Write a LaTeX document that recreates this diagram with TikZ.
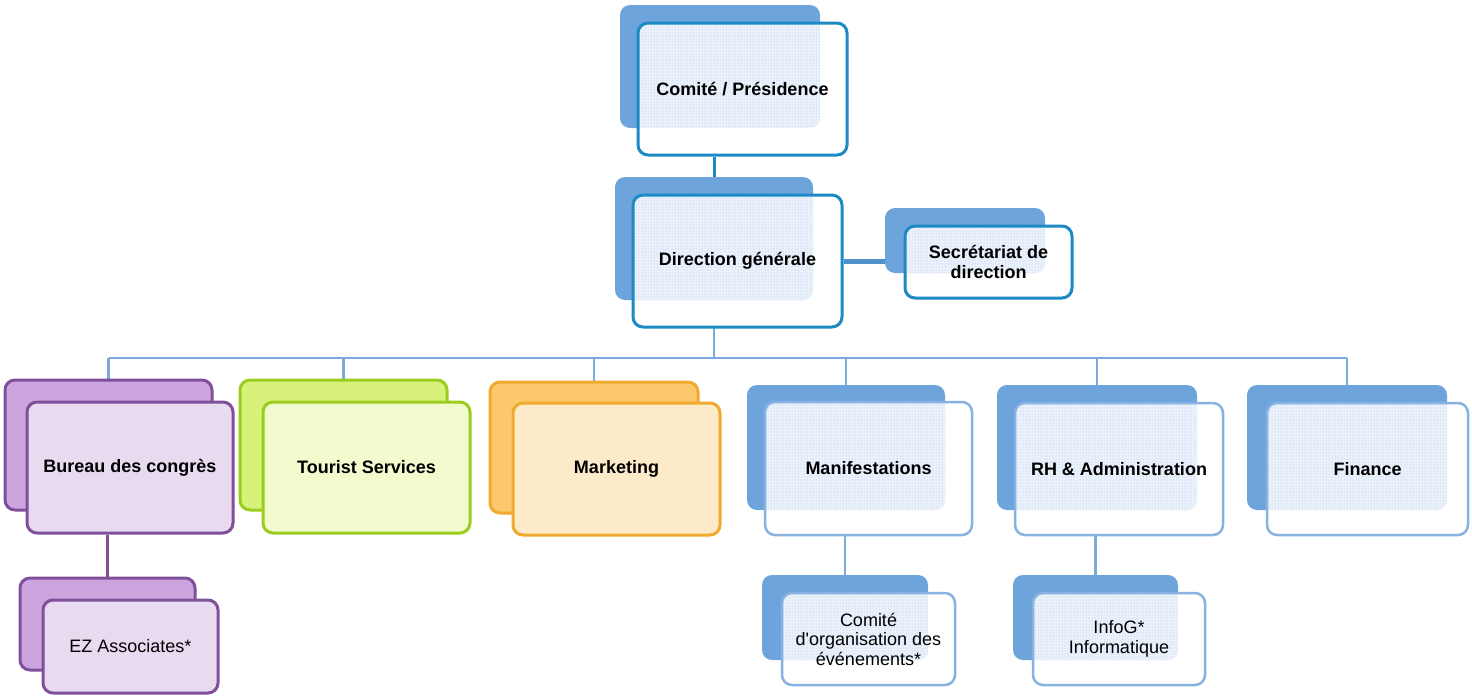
\documentclass[tikz,border=0pt]{standalone}
\usepackage{fontspec}
\setmainfont{Liberation Sans}
\newfontfamily\rawsans{Liberation Sans}[Ligatures=TeXOff]
\usetikzlibrary{patterns,backgrounds}

\definecolor{tealline}{RGB}{28,138,196}
\definecolor{backblue}{RGB}{110,164,220}
\definecolor{paleline}{RGB}{135,178,225}
\definecolor{linkblue}{RGB}{125,170,220}
\definecolor{sidelink}{RGB}{80,145,205}
\definecolor{dotblue}{RGB}{158,186,228}
\definecolor{tintblue}{RGB}{236,242,251}
\definecolor{plmline}{RGB}{128,80,155}
\definecolor{plmback}{RGB}{205,165,222}
\definecolor{plmfront}{RGB}{233,219,239}
\definecolor{limeline}{RGB}{155,205,30}
\definecolor{limeback}{RGB}{216,241,122}
\definecolor{limefront}{RGB}{242,251,205}
\definecolor{ambline}{RGB}{240,170,45}
\definecolor{ambback}{RGB}{251,200,110}
\definecolor{ambfront}{RGB}{253,234,200}

\tikzset{
  card/.style={rectangle, rounded corners=10pt, inner sep=0pt, align=center,
    font=\fontsize{18}{19.5}\selectfont\bfseries},
  subcard/.style={card, font=\fontsize{18}{19.5}\selectfont},
  bluebackcard/.style={card, fill=backblue},
  dotted overlap/.style={path picture={
      \clip (#1.south west) rectangle (#1.north east);
      \fill[tintblue] (path picture bounding box.south west) rectangle (path picture bounding box.north east);
      \fill[pattern=dots, pattern color=dotblue] (path picture bounding box.south west) rectangle (path picture bounding box.north east);}},
  keycard/.style={card, fill=white, draw=tealline, line width=3pt, dotted overlap=#1},
  unitcard/.style={card, fill=white, draw=paleline, line width=2.5pt, dotted overlap=#1},
  plmback/.style={card, fill=plmback, draw=plmline, line width=3pt},
  plmfront/.style={card, fill=plmfront, draw=plmline, line width=3pt},
  limeback/.style={card, fill=limeback, draw=limeline, line width=3pt},
  limefront/.style={card, fill=limefront, draw=limeline, line width=3pt},
  ambback/.style={card, fill=ambback, draw=ambline, line width=3pt},
  ambfront/.style={card, fill=ambfront, draw=ambline, line width=3pt},
  link/.style={draw=linkblue, line width=2.5pt},
}

\begin{document}
\begin{tikzpicture}[x=1pt, y=-1pt]
\useasboundingbox (0,0) rectangle (1472,699);

% top of the chart
\node[bluebackcard, minimum width=200, minimum height=123] (cpb) at (720,66.5) {};
\node[keycard=cpb, minimum width=209, minimum height=132] (cpf) at (742.5,89) {Comité / Présidence};

\node[bluebackcard, minimum width=198, minimum height=123] (dgb) at (714,238.5) {};
\node[keycard=dgb, minimum width=209, minimum height=132] (dgf) at (737.5,261) {Direction générale};

\node[bluebackcard, minimum width=160, minimum height=65] (sdb) at (965,240.5) {};
\node[keycard=sdb, minimum width=167, minimum height=72] (sdf) at (988.5,262) {Secrétariat de\\direction};

% departments
\node[plmback, minimum width=207, minimum height=130] (bcb) at (108.5,445) {};
\node[plmfront, minimum width=206, minimum height=131] (bcf) at (130,467.5) {Bureau des congrès};

\node[limeback, minimum width=207, minimum height=130] (tsb) at (343.5,445) {};
\node[limefront, minimum width=207, minimum height=131] (tsf) at (366.5,467.5) {Tourist Services};

\node[ambback, minimum width=208, minimum height=131] (mkb) at (594,447.5) {};
\node[ambfront, minimum width=207, minimum height=132] (mkf) at (616.5,469) {Marketing};

\node[bluebackcard, minimum width=198, minimum height=125] (mab) at (846,447.5) {};
\node[unitcard=mab, minimum width=207, minimum height=133] (maf) at (868.5,468.5) {Manifestations};

\node[bluebackcard, minimum width=200, minimum height=125] (rhb) at (1097,447.5) {};
\node[unitcard=rhb, minimum width=208, minimum height=132] (rhf) at (1119,469) {RH \& Administration};

\node[bluebackcard, minimum width=200, minimum height=125] (fib) at (1347,447.5) {};
\node[unitcard=fib, minimum width=201, minimum height=132] (fif) at (1367.5,469) {Finance};

% sub-units
\node[plmback, minimum width=175, minimum height=92] (ezb) at (107.5,624) {};
\node[plmfront, subcard, minimum width=175, minimum height=93] (ezf) at (130.5,646.5) {EZ Associates*};

\node[bluebackcard, minimum width=166, minimum height=85] (cob) at (845,617.5) {};
\node[unitcard=cob, subcard, minimum width=173, minimum height=92] (cof) at (868.5,639) {Comité\\{\rawsans d'organisation des}\\événements*};

\node[bluebackcard, minimum width=165, minimum height=85] (igb) at (1095.5,617.5) {};
\node[unitcard=igb, subcard, minimum width=172, minimum height=92] (igf) at (1119,639) {InfoG*\\Informatique};

\coordinate (bus) at (0,358);

% connectors, kept behind the cards
\begin{scope}[on background layer]
  \draw[draw=tealline, line width=3pt] (dgb.north) -- (dgb.north |- cpf.south);
  \draw[draw=sidelink, line width=5pt] (dgf.east) -- (sdb.west |- dgf.east);
  \draw[link] (dgb.south) -- (dgb.south |- bus);
  \draw[link] (bcb.north |- bus) -- (fib.north |- bus);
  \foreach \n in {bcb,tsb,mkb,mab,rhb,fib}
    \draw[link] (\n.north |- bus) -- (\n.north);
  \draw[draw=plmline, line width=3pt] (ezb.north) -- (ezb.north |- bcf.south);
  \draw[link] (cob.north) -- (cob.north |- maf.south);
  \draw[link] (igb.north) -- (igb.north |- rhf.south);
\end{scope}
\end{tikzpicture}
\end{document}
